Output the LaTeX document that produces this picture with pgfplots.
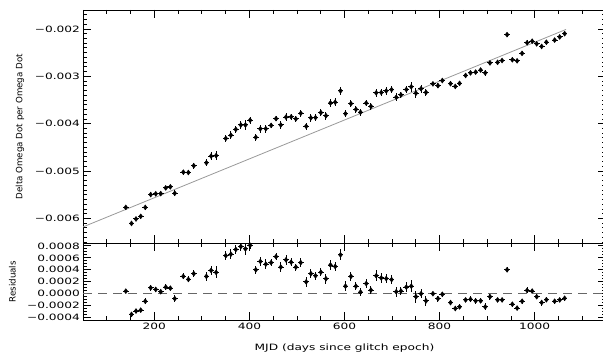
\documentclass[border=0pt]{standalone}
\usepackage{pgfplots}
\pgfplotsset{compat=1.18}
\usepackage{pgfplotstable}
\usepackage{fontspec}
\setmainfont{DejaVu Sans}[FakeStretch=1.4]
\newfontfamily\labelfont{DejaVu Sans}

\pgfplotstableread{
x      top        res        ey
140    -0.005768  0.000043   0.00002
152    -0.006107  -0.000346  0.00003
161.5  -0.006012  -0.000290  0.00003
171.4  -0.005957  -0.000275  0.00003
181    -0.005768  -0.000126  0.00005
192.4  -0.005497  0.000099   0.00005
203    -0.005481  0.000071   0.00004
213.5  -0.005476  0.000033   0.00003
224    -0.005356  0.000110   0.00005
233.7  -0.005333  0.000093   0.00003
243    -0.005470  -0.000082  0.00006
261    -0.005024  0.000290   0.00005
271.6  -0.005031  0.000240   0.00005
283    -0.004889  0.000335   0.00006
309.5  -0.004825  0.000290   0.00007
319.4  -0.004684  0.000390   0.00008
330    -0.004674  0.000357   0.00010
350.3  -0.004311  0.000637   0.00007
361    -0.004244  0.000660   0.00008
371.4  -0.004121  0.000740   0.00007
382    -0.004028  0.000790   0.00008
391.6  -0.004028  0.000750   0.00010
401.5  -0.003927  0.000810   0.00007
413.5  -0.004288  0.000400   0.00007
423    -0.004109  0.000540   0.00008
434.5  -0.004107  0.000495   0.00008
445.7  -0.004036  0.000520   0.00006
456    -0.003894  0.000620   0.00006
466    -0.004028  0.000445   0.00008
477    -0.003862  0.000566   0.00008
487.8  -0.003856  0.000527   0.00007
497.7  -0.003898  0.000445   0.00006
508    -0.003780  0.000520   0.00007
519.4  -0.004056  0.000198   0.00008
529.3  -0.003878  0.000335   0.00008
539    -0.003873  0.000300   0.00007
550.3  -0.003767  0.000360   0.00007
561    -0.003833  0.000250   0.00008
570.5  -0.003564  0.000480   0.00008
580.4  -0.003547  0.000456   0.00008
591.6  -0.003307  0.000650   0.00009
602    -0.003789  0.000126   0.00008
613.5  -0.003577  0.000290   0.00007
624    -0.003698  0.000126   0.00007
633.7  -0.003758  0.000027   0.00007
645.7  -0.003565  0.000170   0.00007
655.6  -0.003635  0.000060   0.00007
666.7  -0.003349  0.000300   0.00009
677.3  -0.003342  0.000264   0.00008
687.8  -0.003310  0.000253   0.00008
699    -0.003281  0.000236   0.00008
708.8  -0.003443  0.000033   0.00008
718.7  -0.003392  0.000044   0.00007
730    -0.003279  0.000110   0.00008
740.4  -0.003221  0.000126   0.00010
750.3  -0.003356  -0.000050  0.00010
761    -0.003262  0.000000   0.00008
771.4  -0.003339  -0.000120  0.00008
786    -0.003160  0.000000   0.00003
796.6  -0.003198  -0.000082  0.00005
805.7  -0.003089  -0.000010  0.00004
823    -0.003156  -0.000148  0.00004
833    -0.003214  -0.000247  0.00004
842    -0.003150  -0.000220  0.00004
854.7  -0.002982  -0.000104  0.00004
865    -0.002928  -0.000093  0.00005
875.8  -0.002911  -0.000120  0.00005
886.3  -0.002868  -0.000120  0.00004
896    -0.002928  -0.000220  0.00006
906    -0.002717  -0.000050  0.00005
922    -0.002705  -0.000104  0.00004
931.4  -0.002667  -0.000104  0.00004
941.9  -0.002120  0.000400   0.00004
953    -0.002650  -0.000176  0.00004
963    -0.002673  -0.000240  0.00004
973.5  -0.002516  -0.000126  0.00004
984    -0.002292  0.000055   0.00005
994.7  -0.002259  0.000044   0.00004
1004.2 -0.002314  -0.000050  0.00004
1014.7 -0.002369  -0.000148  0.00005
1024.6 -0.002280  -0.000100  0.00004
1042   -0.002235  -0.000126  0.00004
1052.6 -0.002169  -0.000104  0.00004
1063   -0.002100  -0.000077  0.00004
}\datatable

\pgfplotsset{
  every axis/.append style={
    scale only axis, width=523bp, xmin=50, xmax=1150,
    axis line style={line width=0.8bp}, tick style={line width=0.8bp, black},
    major tick length=8bp, minor tick length=4bp,
    xtick={200,400,600,800,1000},
    minor xtick={50,100,...,1150},
    scaled y ticks=false, scaled x ticks=false,
    tick label style={font=\fontsize{8.7bp}{10bp}\selectfont},
    label style={font=\labelfont\fontsize{8.7bp}{10bp}\selectfont},
  },
  errstyle/.style={only marks, mark=diamond*, mark size=2.5bp, black,
    error bars/.cd, y dir=both, y explicit, x dir=both, x fixed=6,
    error mark=none, error bar style={line width=1bp, black}},
}

\begin{document}
\fontsize{8.7bp}{10bp}\selectfont
\begin{tikzpicture}
\begin{axis}[
  at={(83bp,112.5bp)}, anchor=south west,
  height=233.5bp,
  ymin=-0.00653, ymax=-0.0016,
  ytick={-0.006,-0.005,-0.004,-0.003,-0.002},
  yticklabels={−0.006,−0.005,−0.004,−0.003,−0.002},
  minor ytick={-0.0065,-0.0064,...,-0.0016},
  xticklabels={},
  ylabel={Delta Omega Dot per Omega Dot},
  ylabel style={at={(axis description cs:-0.1205,0.5)}, anchor=center},
]
\addplot[black!40, line width=0.8bp] coordinates {(50,-0.00618) (1066,-0.00201)};
\addplot[errstyle] table[x=x, y=top, y error=ey] {\datatable};
\end{axis}

\begin{axis}[
  at={(83bp,36bp)}, anchor=south west,
  height=76.5bp,
  ymin=-0.00044, ymax=0.00084,
  ytick={-0.0004,-0.0002,0,0.0002,0.0004,0.0006,0.0008},
  yticklabels={−0.0004,−0.0002,0.0000,0.0002,0.0004,0.0006,0.0008},
  minor ytick={-0.0004,-0.00035,...,0.00084},
  xticklabels={200,400,600,800,1000},
  ylabel={Residuals},
  ylabel style={at={(axis description cs:-0.135,0.5)}, anchor=center},
  xlabel={MJD (days since glitch epoch)},
  xlabel style={font=\fontsize{8.7bp}{10bp}\selectfont, at={(axis description cs:0.5,0)}, anchor=center, yshift=-28bp},
]
\addplot[black!60, line width=0.8bp, dash pattern=on 9bp off 6bp] coordinates {(50,0) (1150,0)};
\addplot[errstyle] table[x=x, y=res, y error=ey] {\datatable};
\end{axis}
\pgfresetboundingbox
\useasboundingbox (0,0) rectangle (603bp,356bp);
\end{tikzpicture}
\end{document}
